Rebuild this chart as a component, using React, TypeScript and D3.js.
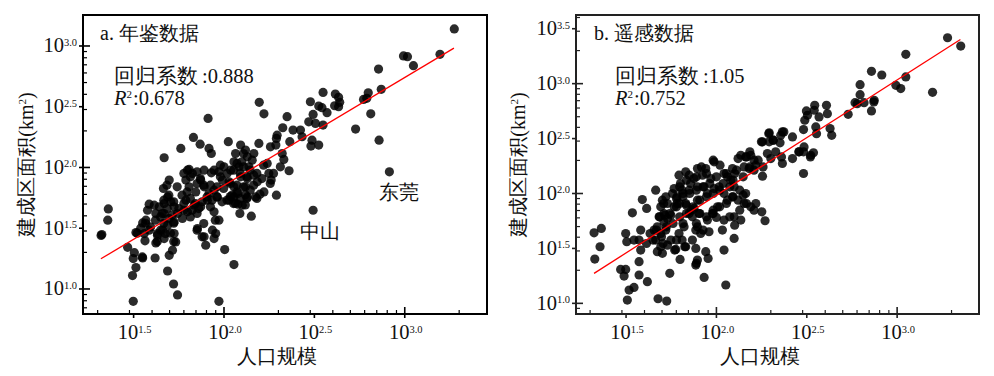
import React from 'react';
import * as d3 from 'd3';

// ---------- data (values are log10 exponents) ----------
const xTickExps = [1.5, 2.0, 2.5, 3.0];
const yTickExpsA = [1.0, 1.5, 2.0, 2.5, 3.0];
const yTickExpsB = [1.0, 1.5, 2.0, 2.5, 3.0, 3.5];

// panel a: [log10 population, log10 built-up area]
const yearbookPoints: [number, number][] = [
  [3.274,3.140],[2.993,2.918],[3.015,2.912],[3.048,2.838],[3.195,2.931],[2.855,2.810],[2.870,2.643],[2.798,2.615],
  [2.772,2.560],[2.790,2.569],[2.812,2.442],[2.728,2.316],[2.858,2.225],[2.915,1.964],[2.493,1.648],[2.616,2.604],
  [2.634,2.577],[2.640,2.536],[2.612,2.508],[2.634,2.500],[2.548,2.618],[2.478,2.541],[2.524,2.505],[2.542,2.492],
  [2.570,2.451],[2.493,2.437],[2.548,2.349],[2.506,2.363],[2.469,2.376],[2.423,2.308],[2.382,2.308],[2.432,2.253],
  [2.487,2.225],[2.481,2.176],[2.524,2.184],[2.349,2.418],[2.325,2.327],[2.364,2.212],[2.294,2.266],[2.290,2.239],
  [2.195,2.536],[2.221,2.442],[1.912,2.404],[1.831,2.247],[1.868,2.192],[1.761,2.157],[1.669,2.080],[1.917,2.157],
  [1.930,2.115],[2.024,2.212],[2.092,2.184],[2.064,2.115],[2.193,2.198],[2.257,2.170],[2.287,2.184],[2.322,2.115],
  [2.331,2.066],[2.312,2.005],[2.360,1.973],[2.239,2.033],[2.248,1.951],[2.261,1.896],[2.221,1.799],[2.199,1.780],
  [2.290,1.772],[2.175,1.758],[2.151,1.599],[2.101,1.690],[2.088,1.621],[2.077,1.698],[2.119,1.841],[2.129,1.758],
  [2.165,2.115],[2.156,2.060],[2.138,2.005],[2.119,2.143],[2.129,2.088],[2.055,2.047],[2.083,2.005],[2.000,2.005],
  [2.037,1.978],[1.972,1.964],[1.991,1.896],[2.028,1.882],[2.055,1.841],[2.092,1.923],[2.028,1.731],[2.055,1.758],
  [2.077,1.786],[2.129,1.909],[2.165,1.937],[2.184,1.882],[2.004,1.324],[2.055,1.201],[1.972,0.898],[1.930,1.956],
  [1.945,1.978],[1.890,1.978],[1.871,1.896],[1.798,1.978],[1.825,1.951],[1.851,1.964],[1.789,1.896],[1.807,1.841],
  [1.844,1.799],[1.890,1.841],[1.917,1.786],[1.945,1.813],[1.963,1.758],[1.908,1.731],[1.871,1.676],[1.835,1.690],
  [1.789,1.731],[1.798,1.635],[1.770,1.580],[1.743,1.621],[1.724,1.676],[1.945,1.635],[1.972,1.566],[1.936,1.484],
  [1.954,1.456],[1.945,1.415],[1.890,1.429],[1.899,1.360],[1.853,1.497],[1.697,1.896],[1.684,1.854],[1.665,1.827],
  [1.688,1.758],[1.706,1.717],[1.669,1.703],[1.642,1.676],[1.623,1.621],[1.669,1.621],[1.697,1.580],[1.724,1.552],
  [1.688,1.525],[1.660,1.484],[1.669,1.415],[1.632,1.442],[1.724,1.456],[1.733,1.387],[1.715,1.319],[1.697,1.277],
  [1.688,1.148],[1.721,1.041],[1.743,0.951],[1.586,1.698],[1.614,1.690],[1.577,1.648],[1.568,1.566],[1.586,1.484],
  [1.550,1.544],[1.559,1.456],[1.563,1.396],[1.513,1.464],[1.623,1.379],[1.632,1.456],[1.467,1.343],[1.504,1.299],
  [1.498,1.250],[1.550,1.255],[1.513,1.176],[1.494,1.110],[1.498,0.898],[1.619,1.255],[1.360,1.659],[1.357,1.566],
  [1.324,1.448],[1.320,1.440],[1.807,1.984],[1.980,2.019],[2.072,2.033],[2.099,2.047],[2.108,2.115],[2.219,2.019],
  [2.274,1.951],[2.256,1.868],[2.164,1.854],[2.182,1.745],[1.741,1.841],[1.778,1.648],[1.814,1.593],[1.851,1.621],
  [1.925,1.676],[1.952,1.566],[1.888,1.538],[1.851,1.484],[1.879,1.429],[1.722,1.541],[1.704,1.459],[1.722,1.390],
  [1.649,1.593],[1.667,1.541],[1.566,1.541],[1.539,1.500],[1.520,1.459],[1.548,1.264],[1.631,1.390],[2.035,1.761],
  [2.063,1.706],[2.118,1.692],[2.118,1.775],
  [1.667,1.731],[1.695,1.772],[1.722,1.717],[1.686,1.662],[1.658,1.621],[1.713,1.607],[1.750,1.662],[1.778,1.703],
  [1.768,1.772],[1.796,1.799],[1.814,1.745],[1.842,1.703],[1.824,1.648],[1.860,1.662],[1.879,1.717],[1.906,1.758],
  [1.934,1.731],[1.961,1.758],[1.989,1.717],[2.017,1.731],[2.044,1.772],[2.072,1.799],[1.998,1.827],[1.961,1.841],
  [1.925,1.854],[1.888,1.854],[1.851,1.868],[1.814,1.923],[1.778,1.951],[1.869,1.909],[1.980,1.923],[2.017,1.951],
  [2.053,1.978],[2.090,1.951],[2.127,1.923],[2.145,1.978],[2.108,2.005],[2.182,1.951],[2.210,1.909],[2.035,1.868],
  [2.072,1.854],[2.108,1.841],[2.145,1.813],[2.090,1.745],[2.053,1.703],[2.127,1.745],[1.649,1.484],[1.676,1.456],
  [1.621,1.566],[1.594,1.511],
];

// panel b: [log10 population, log10 built-up area]
const remotePoints: [number, number][] = [
  [3.279,3.418],[3.352,3.342],[3.048,3.267],[3.048,3.061],[2.858,3.112],[2.915,3.079],[3.196,2.921],[2.993,2.985],
  [3.020,2.955],[2.795,2.991],[2.795,2.900],[2.767,2.827],[2.817,2.827],[2.873,2.848],[2.858,2.752],[2.729,2.721],
  [2.609,2.803],[2.614,2.727],[2.629,2.591],[2.638,2.530],[2.544,2.803],[2.541,2.758],[2.498,2.752],[2.504,2.712],
  [2.489,2.667],[2.568,2.697],[2.550,2.606],[2.554,2.545],[2.482,2.582],[2.485,2.424],[2.482,2.379],[2.458,2.379],
  [2.522,2.348],[2.537,2.370],[2.482,2.182],[2.421,2.515],[2.365,2.561],[2.356,2.530],[2.292,2.552],[2.315,2.485],
  [2.292,2.470],[2.352,2.461],[2.360,2.333],[2.365,2.273],[2.282,2.364],[2.328,2.379],[2.301,2.318],[2.421,2.318],
  [2.255,2.470],[2.255,2.158],[2.218,2.258],[2.208,2.212],[2.190,2.348],[2.162,2.333],[2.135,2.348],[2.120,2.318],
  [2.153,2.242],[2.181,2.227],[2.208,2.303],[2.089,2.227],[2.101,2.182],[2.061,2.152],[2.079,2.121],[1.987,2.288],
  [2.020,2.258],[2.042,2.182],[1.895,2.227],[1.941,2.227],[1.923,2.167],[1.969,2.136],[1.830,2.197],[1.849,2.167],
  [1.876,2.136],[1.857,2.091],[1.793,2.167],[1.801,2.091],[1.810,2.030],[1.782,1.970],[1.796,1.909],[1.766,2.045],
  [1.757,2.000],[1.782,1.909],[1.766,1.879],[1.849,2.030],[1.895,2.061],[1.932,2.061],[1.950,2.000],[1.987,2.045],
  [2.015,2.061],[2.042,2.000],[2.061,1.939],[2.089,1.970],[2.098,2.061],[2.162,2.000],[2.153,1.909],[2.190,1.879],
  [2.218,1.909],[2.208,1.848],[2.251,1.833],[2.269,1.752],[2.098,1.788],[2.135,1.758],[2.101,1.712],[2.098,1.591],
  [2.042,1.758],[2.033,1.667],[2.042,1.485],[2.052,1.167],[2.006,1.879],[1.978,1.818],[1.950,1.758],[1.895,1.939],
  [1.876,1.864],[1.904,1.818],[1.895,1.697],[1.913,1.636],[1.886,1.667],[1.867,1.576],[1.830,1.515],[1.886,1.500],
  [1.941,1.470],[1.954,1.409],[1.932,1.236],[1.895,1.394],[1.886,1.348],[1.959,1.652],[1.821,1.697],[1.793,1.636],
  [1.810,1.576],[1.830,1.909],[1.849,1.818],[1.867,1.788],[1.748,1.803],[1.729,1.773],[1.710,1.818],[1.692,1.879],
  [1.664,2.030],[1.720,1.970],[1.701,1.939],[1.729,1.909],[1.683,1.788],[1.710,1.742],[1.673,1.697],[1.720,1.667],
  [1.655,1.667],[1.633,1.636],[1.692,1.636],[1.664,1.576],[1.692,1.515],[1.673,1.470],[1.701,1.455],[1.748,1.576],
  [1.729,1.530],[1.775,1.491],[1.799,1.400],[1.742,1.273],[1.677,1.042],[1.725,1.021],[1.618,1.197],[1.590,1.945],
  [1.614,1.864],[1.535,1.824],[1.581,1.667],[1.572,1.576],[1.581,1.485],[1.544,1.576],[1.572,1.379],[1.572,1.258],
  [1.498,1.636],[1.504,1.561],[1.498,1.309],[1.470,1.309],[1.489,1.248],[1.517,1.121],[1.544,1.145],[1.507,1.030],
  [1.323,1.642],[1.363,1.682],[1.356,1.515],[1.327,1.403],[2.779,2.818],[2.871,2.833],[2.290,2.545],[2.373,2.561],
  [2.456,2.379],[2.520,2.333],[1.714,1.803],[1.708,1.909],[1.769,1.485],[1.825,1.515],[1.889,1.364],[1.982,1.848],
  [2.000,1.782],[2.074,1.788],[2.129,1.848],[2.166,1.909],[2.120,1.939],[2.148,1.985],[1.917,2.242],[1.982,2.303],
  [1.834,1.894],[1.862,1.848],[1.779,1.955],[1.815,2.000],[2.185,2.379],[2.231,2.303],[2.258,2.242],[2.249,2.470],
  [2.314,2.485],
  [1.668,1.667],[1.696,1.606],[1.723,1.697],[1.686,1.788],[1.742,1.818],[1.779,1.879],[1.797,1.788],[1.760,1.727],
  [1.815,1.727],[1.834,1.818],[1.871,1.879],[1.908,1.939],[1.945,1.970],[1.982,2.000],[2.018,2.030],[1.963,2.091],
  [1.926,2.061],[1.889,2.030],[1.852,2.000],[1.815,1.970],[1.797,2.061],[1.834,2.121],[1.889,2.152],[1.945,2.182],
  [2.000,2.152],[2.037,2.091],[2.074,2.061],[2.092,2.121],[2.055,2.182],[2.111,2.212],[2.148,2.152],[2.129,2.030],
  [2.092,1.970],[2.055,1.909],[2.018,1.879],[1.982,1.818],[1.945,1.788],[1.908,1.818],[1.889,1.727],[1.926,1.667],
  [1.649,1.576],[1.613,1.545],[1.705,1.545],[1.779,1.576],[2.185,2.242],[2.166,2.333],
];

// regression fits: slope, intercept (log-log), fitted x-range
const fitA = { slope: 0.888, intercept: 0.077, xFrom: 1.319, xTo: 3.272 };
const fitB = { slope: 1.05, intercept: -0.116, xFrom: 1.323, xTo: 3.35 };
const statsA = { coef: '0.888', r2: '0.678' };
const statsB = { coef: '1.05', r2: '0.752' };
const annotationsA = [
  { text: '东莞', x: 2.856, y: 1.741 },
  { text: '中山', x: 2.419, y: 1.42 },
];

const FONT = 'Liberation Serif';

function minorExps(lo: number, hi: number) {
  const out: number[] = [];
  for (let n = 0; n <= 4; n++) {
    for (let k = 2; k <= 9; k++) {
      const v = Math.log10(k) + n;
      if (v > lo + 0.005 && v < hi - 0.005) out.push(v);
    }
  }
  return out;
}

type PanelProps = {
  title: string;
  points: [number, number][];
  fit: { slope: number; intercept: number; xFrom: number; xTo: number };
  stats: { coef: string; r2: string };
  xTicks: number[];
  yTicks: number[];
  box: { x0: number; x1: number; y0: number; y1: number };
  xDom: [number, number];
  yDom: [number, number];
  frameColor: string;
  yLabelX: number;
  xLabelX: number;
  annotations?: { text: string; x: number; y: number }[];
  textX: { title: number; stats: number };
};

function Panel(p: PanelProps) {
  const { box } = p;
  const x = d3.scaleLinear().domain(p.xDom).range([box.x0, box.x1]);
  const y = d3.scaleLinear().domain(p.yDom).range([box.y1, box.y0]);
  const line = d3
    .line<number>()
    .x((d) => x(d))
    .y((d) => y(p.fit.slope * d + p.fit.intercept));
  const xMinor = minorExps(p.xDom[0], p.xDom[1]);
  const yMinor = minorExps(p.yDom[0], p.yDom[1]);
  const isDecade = (v: number) => Math.abs(v - Math.round(v)) < 1e-6;
  const fc = p.frameColor;
  const txt = { fill: '#111', fontFamily: FONT } as React.CSSProperties;
  return (
    <g>
      {p.points.map((d, i) => (
        <circle key={i} cx={x(d[0])} cy={y(d[1])} r={4.6} fill="#000" fillOpacity={0.83} />
      ))}
      <path d={line([p.fit.xFrom, p.fit.xTo]) || ''} stroke="#ff0000" strokeWidth={1.3} fill="none" />
      <rect x={box.x0} y={box.y0} width={box.x1 - box.x0} height={box.y1 - box.y0} fill="none" stroke={fc} strokeWidth={2} />
      {xMinor.map((v, i) => (
        <line key={'xm' + i} x1={x(v)} x2={x(v)} y1={box.y1} y2={box.y1 - 4} stroke={fc} strokeWidth={1.2} />
      ))}
      {p.xTicks.map((v, i) => (
        <g key={'xt' + i}>
          <line x1={x(v)} x2={x(v)} y1={isDecade(v) ? box.y1 - 7 : box.y1} y2={box.y1 + 4} stroke={fc} strokeWidth={1.6} />
          <text x={x(v) + 1} y={339} textAnchor="middle" fontSize={20.5} style={txt}>
            <tspan>10</tspan>
            <tspan dy={-6.5} fontSize={10.5}>{v.toFixed(1)}</tspan>
          </text>
        </g>
      ))}
      {yMinor.map((v, i) => (
        <line key={'ym' + i} x1={box.x0} x2={box.x0 + 4} y1={y(v)} y2={y(v)} stroke={fc} strokeWidth={1.2} />
      ))}
      {p.yTicks.map((v, i) => (
        <g key={'yt' + i}>
          <line x1={box.x0 - 4} x2={isDecade(v) ? box.x0 + 7 : box.x0} y1={y(v)} y2={y(v)} stroke={fc} strokeWidth={1.6} />
          <text x={box.x0 - 6} y={y(v) + 6.5} textAnchor="end" fontSize={20.5} style={txt}>
            <tspan>10</tspan>
            <tspan dy={-6.5} fontSize={10.5}>{v.toFixed(1)}</tspan>
          </text>
        </g>
      ))}
      <text x={p.textX.title} y={40} fontSize={20} style={txt}>{p.title}</text>
      <text x={p.textX.stats} y={83} fontSize={20.5} style={txt}>
        回归系数<tspan dx={4}>:</tspan>{p.stats.coef}
      </text>
      <text x={p.textX.stats} y={105} fontSize={20.5} style={txt}>
        <tspan fontStyle="italic">R</tspan>
        <tspan dy={-7} fontSize={11}>2</tspan>
        <tspan dy={7} dx={1}>:{p.stats.r2}</tspan>
      </text>
      {(p.annotations || []).map((a, i) => (
        <text key={'an' + i} x={x(a.x)} y={y(a.y)} fontSize={20} style={txt}>{a.text}</text>
      ))}
      <text x={p.xLabelX} y={363} textAnchor="middle" fontSize={20} style={txt}>人口规模</text>
      <text transform={`translate(${p.yLabelX},${(box.y0 + box.y1) / 2}) rotate(-90)`} textAnchor="middle" fontSize={20} style={txt}>
        建成区面积(km<tspan dy={-7} fontSize={11}>2</tspan><tspan dy={7}>)</tspan>
      </text>
    </g>
  );
}

export default function App() {
  return (
    <svg width={994} height={376} viewBox="0 0 994 376" style={{ position: 'absolute', left: 0, top: 0, background: '#fff' }}>
      <rect width={994} height={376} fill="#fff" />
      <Panel
        title="a. 年鉴数据"
        points={yearbookPoints}
        fit={fitA}
        stats={statsA}
        xTicks={xTickExps}
        yTicks={yTickExpsA}
        box={{ x0: 83, x1: 487, y0: 15, y1: 314 }}
        xDom={[1.22, 3.455]}
        yDom={[0.794, 3.255]}
        frameColor="#000"
        yLabelX={33}
        xLabelX={277}
        annotations={annotationsA}
        textX={{ title: 100, stats: 114 }}
      />
      <Panel
        title="b. 遥感数据"
        points={remotePoints}
        fit={fitB}
        stats={statsB}
        xTicks={xTickExps}
        yTicks={yTickExpsB}
        box={{ x0: 576, x1: 979, y0: 15, y1: 314 }}
        xDom={[1.223, 3.453]}
        yDom={[0.903, 3.625]}
        frameColor="#222"
        yLabelX={525}
        xLabelX={760}
        textX={{ title: 594, stats: 615 }}
      />
    </svg>
  );
}
